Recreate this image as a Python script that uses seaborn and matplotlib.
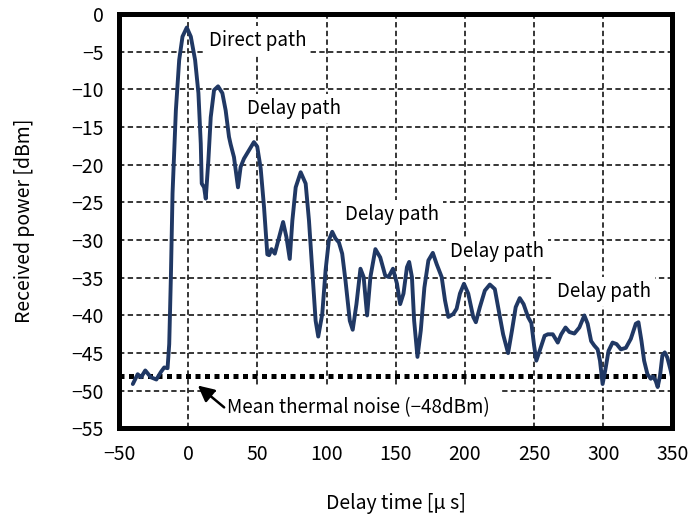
import matplotlib
matplotlib.use("Agg")
import matplotlib.pyplot as plt
import pandas as pd
import seaborn as sns

# Power delay profile: received power versus delay time
delay_us = [
    -40.0, -36.5, -34.0, -31.0, -27.0, -23.0, -19.7, -17.3, -14.9, -13.7,
    -12.5, -11.3, -8.9, -6.5, -4.1, -1.0, 1.9, 5.0, 7.4, 9.1,
    9.8, 11.5, 12.7, 14.6, 16.3, 18.7, 21.6, 24.7, 27.1, 29.5,
    30.7, 33.1, 36.0, 37.9, 40.3, 43.9, 47.5, 49.9, 52.4, 54.8,
    57.2, 58.5, 60.2, 62.6, 65.7, 68.6, 71.0, 73.4, 75.3, 77.7,
    81.3, 84.9, 87.3, 89.7, 92.1, 94.0, 96.9, 99.3, 101.7, 104.1,
    106.5, 108.9, 111.3, 113.7, 116.8, 118.9, 121.6, 124.5, 126.8, 129.3,
    131.7, 135.3, 138.8, 142.4, 144.8, 148.0, 150.9, 153.2, 155.6, 158.1,
    159.7, 161.7, 163.3, 165.7, 168.1, 170.7, 173.6, 176.8, 179.6, 183.2,
    185.6, 188.0, 191.6, 194.0, 196.4, 199.3, 202.4, 206.0, 207.9, 210.8,
    214.4, 218.0, 221.6, 224.0, 227.6, 231.2, 234.0, 236.7, 239.6, 242.4,
    245.6, 248.0, 250.0, 251.6, 254.0, 257.6, 259.9, 263.5, 267.1, 269.6,
    272.7, 275.5, 279.1, 282.7, 286.3, 288.7, 291.2, 293.5, 295.9, 297.6,
    299.5, 301.4, 303.8, 306.7, 309.6, 312.7, 316.3, 319.9, 323.5, 325.4,
    327.6, 329.5, 331.9, 334.3, 336.0, 337.9, 339.3, 341.0, 342.7, 344.4,
    346.3, 348.7, 350.0,
]
power_dbm = [
    -49.1, -47.8, -48.2, -47.3, -48.2, -48.5, -47.5, -46.9, -47.0, -43.8,
    -34.9, -23.8, -12.8, -6.1, -3.0, -1.8, -3.0, -6.1, -10.5, -17.2,
    -22.5, -23.0, -24.5, -19.4, -13.7, -10.1, -9.6, -10.5, -12.8, -16.3,
    -17.3, -19.0, -23.0, -20.3, -19.2, -18.1, -17.0, -17.6, -20.5, -25.6,
    -31.9, -32.0, -31.2, -31.8, -29.6, -27.6, -29.6, -32.5, -27.4, -23.0,
    -21.0, -22.5, -27.4, -34.0, -40.7, -42.8, -39.8, -34.0, -30.0, -28.9,
    -29.8, -30.3, -31.8, -35.4, -40.7, -41.9, -38.5, -33.8, -34.9, -40.0,
    -34.9, -31.2, -32.3, -34.7, -34.9, -33.8, -35.8, -38.5, -37.1, -33.6,
    -32.9, -34.9, -40.7, -45.5, -42.0, -36.3, -32.7, -31.7, -33.2, -34.9,
    -38.0, -40.2, -39.8, -39.1, -37.1, -35.8, -37.1, -40.2, -40.9, -38.9,
    -36.7, -35.9, -36.5, -38.9, -42.5, -45.0, -42.0, -38.9, -37.7, -38.5,
    -40.2, -41.0, -44.0, -46.0, -44.7, -42.7, -42.5, -42.5, -43.6, -42.5,
    -41.6, -42.2, -42.4, -41.6, -40.0, -41.1, -43.4, -44.0, -44.5, -46.0,
    -49.1, -47.3, -44.7, -43.6, -43.8, -44.5, -44.3, -43.1, -41.1, -40.9,
    -43.4, -46.0, -47.8, -48.4, -48.1, -48.7, -49.5, -48.0, -45.3, -44.9,
    -45.6, -47.3, -48.5,
]
noise_floor_dbm = -48

x_ticks = list(range(-50, 351, 50))
y_ticks = list(range(-55, 1, 5))

path_labels = ["Direct path", "Delay path", "Delay path", "Delay path", "Delay path"]
noise_label = "Mean thermal noise (\u221248dBm)"

sns.set_theme(style="white")
plt.rcParams["font.family"] = ["Noto Sans CJK JP", "DejaVu Sans"]
plt.rcParams["axes.unicode_minus"] = True

fig = plt.figure(figsize=(6.91, 5.16), dpi=100)
ax = fig.add_axes([0.1722, 0.1696, 0.8010, 0.8033])

df = pd.DataFrame({"delay": delay_us, "power": power_dbm})

# thermal noise floor
ax.axhline(noise_floor_dbm, color="black", linewidth=3.6,
           linestyle=(0, (1.0, 0.9)), zorder=2)

sns.lineplot(data=df, x="delay", y="power", ax=ax, color="#203864",
             linewidth=2.8, zorder=3, solid_joinstyle="round",
             solid_capstyle="round")

ax.set_xlim(-50, 350)
ax.set_ylim(-55, 0)
ax.set_xticks(x_ticks)
ax.set_yticks(y_ticks)
ax.tick_params(axis="both", length=0, pad=11, labelsize=14, colors="black")

ax.grid(True, color="black", linewidth=1.1, linestyle=(0, (3.5, 2.2)))
ax.set_axisbelow(True)

for side in ["left", "right", "top", "bottom"]:
    ax.spines[side].set_visible(True)
    ax.spines[side].set_color("black")
    ax.spines[side].set_linewidth(3.6)
    ax.spines[side].set_zorder(5)

ax.set_xlabel("Delay time [\u03bc s]", fontsize=14, labelpad=20, color="black")
ax.set_ylabel("Received power [dBm]", fontsize=14, labelpad=26, color="black")

box = dict(boxstyle="square,pad=0.22", facecolor="white", edgecolor="none")
label_spots = [(50.0, -3.5), (76.6, -12.5), (147.5, -26.6), (223.4, -31.5), (300.4, -36.8)]
for text, (lx, ly) in zip(path_labels, label_spots):
    ax.text(lx, ly, text, ha="center", va="center", fontsize=13.5,
            color="black", bbox=box, zorder=4)

ax.text(27.8, -52.2, noise_label, ha="left", va="center", fontsize=13.5,
        color="black", zorder=4,
        bbox=dict(boxstyle="square,pad=0.55", facecolor="white", edgecolor="none"))

# arrow pointing from the label to the noise floor
ax.annotate("", xy=(7.0, -49.3), xytext=(26.0, -52.2),
            arrowprops=dict(arrowstyle="-|>,head_length=0.8,head_width=0.4",
                            color="black", linewidth=1.8, shrinkA=0, shrinkB=0),
            zorder=6)

fig.savefig("out.png", dpi=100)
